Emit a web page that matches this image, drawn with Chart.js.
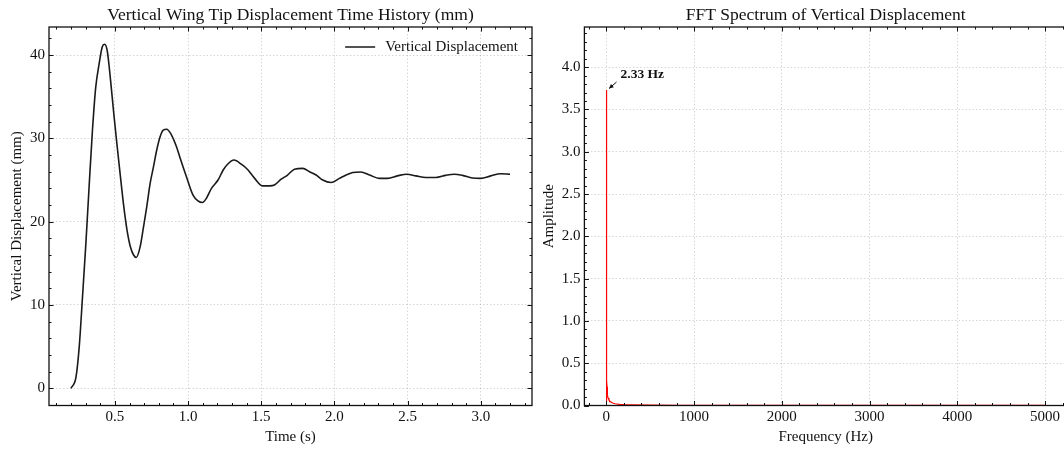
<!DOCTYPE html>
<html>
<head>
<meta charset="utf-8">
<title>Wing tip displacement</title>
<script src="https://cdn.jsdelivr.net/npm/chart.js@4.4.0/dist/chart.umd.min.js"></script>
<style>
    html, body { margin: 0; padding: 0; background: #fff; overflow: hidden; }
    #wrap { position: relative; width: 1064px; height: 449px; overflow: hidden; }
    #timeChart { position: absolute; left: 0; top: 0; }
    #fftChart { position: absolute; left: 530px; top: 0; }
</style>
</head>
<body>
<div id="wrap">
    <canvas id="timeChart" width="540" height="449"></canvas>
    <canvas id="fftChart" width="540" height="449"></canvas>
</div>
<script>
// Time history
const timeSec = [0.20, 0.234, 0.257, 0.279, 0.302, 0.324, 0.347, 0.369, 0.392, 0.414,
    0.430, 0.448, 0.471, 0.493, 0.516, 0.538, 0.561, 0.583, 0.606, 0.628,
    0.646, 0.673, 0.696, 0.718, 0.741, 0.764, 0.786, 0.809, 0.831, 0.854,
    0.887, 0.921, 0.943, 0.989, 1.034, 1.068, 1.098, 1.125, 1.16, 1.205,
    1.24, 1.27, 1.314, 1.364, 1.41, 1.455, 1.51, 1.557, 1.59, 1.636,
    1.68, 1.727, 1.784, 1.83, 1.875, 1.92, 1.977, 2.034, 2.08, 2.125,
    2.18, 2.24, 2.307, 2.364, 2.43, 2.495, 2.557, 2.625, 2.693, 2.76,
    2.818, 2.875, 2.943, 3.0, 3.068, 3.136, 3.2];
const displacementMm = [0, 1.3, 5.1, 11.0, 17.4, 24.2, 31.0, 36.1, 38.9, 41.0,
    41.3, 40.5, 36.9, 32.9, 29.0, 25.4, 21.8, 19.0, 17.0, 16.0,
    15.7, 17.0, 19.4, 21.8, 24.6, 26.6, 28.6, 30.2, 31.0, 31.1,
    30.4, 29.0, 27.8, 25.4, 23.2, 22.5, 22.3, 22.8, 24.0, 25.0,
    26.2, 26.9, 27.4, 26.9, 26.2, 25.2, 24.3, 24.3, 24.4, 25.1,
    25.6, 26.3, 26.4, 26.0, 25.6, 25.0, 24.7, 25.2, 25.6, 25.9,
    25.96, 25.6, 25.2, 25.2, 25.5, 25.7, 25.5, 25.3, 25.3, 25.56,
    25.7, 25.56, 25.24, 25.2, 25.5, 25.76, 25.7];

// FFT spectrum
const freqHz = [0, 0.33, 0.67, 1.0, 1.33, 1.67, 2.0, 2.33, 2.67, 3.0, 3.33, 4, 5, 6, 8, 10,
    15, 20, 30, 40, 60, 80, 100, 150, 200, 300, 500, 800, 1200, 2000, 3000, 4000, 5000];
const amplitude = [0.05, 0.6, 0.7, 0.9, 1.2, 1.8, 2.9, 3.73, 2.2, 1.0, 0.55, 0.45, 0.36, 0.3, 0.22, 0.17,
    0.12, 0.09, 0.065, 0.05, 0.036, 0.027, 0.021, 0.014, 0.011, 0.008, 0.005, 0.003, 0.002, 0.0015, 0.001, 0.001, 0.001];

// Tick labels
const timeTicks = [0.5, 1.0, 1.5, 2.0, 2.5, 3.0];
const dispTicks = [0, 10, 20, 30, 40];
const freqTicks = [0, 1000, 2000, 3000, 4000, 5000];
const ampTicks = [0.0, 0.5, 1.0, 1.5, 2.0, 2.5, 3.0, 3.5, 4.0];

const SERIF = "'Liberation Serif', 'Times New Roman', serif";
const tickFont = { family: SERIF, size: 15 };
const labelFont = { family: SERIF, size: 15 };
const textColor = '#111';
const gridColor = 'rgba(0, 0, 0, 0.2)';

// frame, inward major/minor ticks, and panel title
const framePlugin = {
    id: 'frameTicks',
    afterDraw(chart, args, opts) {
        const { ctx, chartArea: a } = chart;
        const x = chart.scales.x, y = chart.scales.y;
        ctx.save();
        ctx.strokeStyle = '#111';
        ctx.lineWidth = 1;

        const minorVals = (scale, step) => {
            const vals = [];
            for (let k = Math.ceil(scale.min / step); k * step <= scale.max + 1e-9; k++) vals.push(k * step);
            return vals;
        };
        const drawX = (vals, len) => vals.forEach(v => {
            const px = Math.round(x.getPixelForValue(v)) + 0.5;
            ctx.beginPath();
            ctx.moveTo(px, a.bottom); ctx.lineTo(px, a.bottom - len);
            ctx.moveTo(px, a.top); ctx.lineTo(px, a.top + len);
            ctx.stroke();
        });
        const drawY = (vals, len) => vals.forEach(v => {
            const py = Math.round(y.getPixelForValue(v)) + 0.5;
            ctx.beginPath();
            ctx.moveTo(a.left, py); ctx.lineTo(a.left + len, py);
            if (!opts.noRight) { ctx.moveTo(a.right, py); ctx.lineTo(a.right - len, py); }
            ctx.stroke();
        });
        drawX(minorVals(x, opts.minorX), 2.5);
        drawY(minorVals(y, opts.minorY), 2.5);
        drawX(x.ticks.map(t => t.value), 4.5);
        drawY(y.ticks.map(t => t.value), 4.5);

        ctx.lineWidth = 1.3;
        ctx.strokeRect(a.left, a.top, a.right - a.left, a.bottom - a.top);

        ctx.fillStyle = textColor;
        ctx.font = '17.5px ' + SERIF;
        ctx.textAlign = 'center';
        ctx.textBaseline = 'middle';
        ctx.fillText(opts.title, (a.left + a.right) / 2, 15);
        ctx.restore();
    }
};

const legendPlugin = {
    id: 'insideLegend',
    afterDraw(chart) {
        const { ctx, chartArea: a } = chart;
        const label = chart.data.datasets[0].label;
        ctx.save();
        ctx.font = '15px ' + SERIF;
        const w = ctx.measureText(label).width;
        const tx = a.right - 14 - w;
        const ty = a.top + 20;
        ctx.strokeStyle = '#1a1a1a';
        ctx.lineWidth = 1.5;
        ctx.beginPath();
        ctx.moveTo(tx - 40, ty); ctx.lineTo(tx - 10, ty);
        ctx.stroke();
        ctx.fillStyle = textColor;
        ctx.textBaseline = 'middle';
        ctx.fillText(label, tx, ty);
        ctx.restore();
    }
};

const peakPlugin = {
    id: 'peakLabel',
    afterDatasetsDraw(chart) {
        const { ctx } = chart;
        const data = chart.data.datasets[0].data;
        let best = 0;
        data.forEach((p, i) => { if (p.y > data[best].y) best = i; });
        const px = chart.scales.x.getPixelForValue(data[best].x);
        const py = chart.scales.y.getPixelForValue(data[best].y);
        ctx.save();
        ctx.strokeStyle = '#111';
        ctx.fillStyle = '#111';
        ctx.lineWidth = 1;
        const x0 = px + 10, y0 = py - 8, x1 = px + 2.5, y1 = py - 1.5;
        ctx.beginPath();
        ctx.moveTo(x0, y0); ctx.lineTo(x1, y1);
        ctx.stroke();
        const ang = Math.atan2(y1 - y0, x1 - x0);
        ctx.beginPath();
        ctx.moveTo(x1, y1);
        ctx.lineTo(x1 - 5 * Math.cos(ang - 0.45), y1 - 5 * Math.sin(ang - 0.45));
        ctx.lineTo(x1 - 5 * Math.cos(ang + 0.45), y1 - 5 * Math.sin(ang + 0.45));
        ctx.closePath();
        ctx.fill();
        ctx.font = 'bold 13.5px ' + SERIF;
        ctx.textBaseline = 'middle';
        ctx.fillText(data[best].x.toFixed(2) + ' Hz', px + 14, py - 15);
        ctx.restore();
    }
};

function axis(min, max, tickList, fmt, title, fixedSize, isX, titlePad) {
    return {
        type: 'linear',
        min: min,
        max: max,
        afterBuildTicks: s => { s.ticks = tickList.map(v => ({ value: v })); },
        afterFit: s => { if (isX) s.height = fixedSize; else s.width = fixedSize; },
        ticks: {
            font: tickFont, color: textColor, padding: isX ? 3 : 4,
            autoSkip: false, maxRotation: 0,
            callback: v => fmt(v)
        },
        grid: { color: gridColor, lineWidth: 0.8, drawTicks: false },
        border: { display: false, dash: [1.5, 2] },
        title: { display: true, text: title, font: labelFont, color: textColor, padding: titlePad }
    };
}

const timeChart = new Chart(document.getElementById('timeChart'), {
    type: 'line',
    data: {
        datasets: [{
            label: 'Vertical Displacement',
            data: timeSec.map((t, i) => ({ x: t, y: displacementMm[i] })),
            borderColor: '#1a1a1a',
            borderWidth: 1.6,
            pointRadius: 0,
            cubicInterpolationMode: 'monotone',
            fill: false
        }]
    },
    options: {
        responsive: false,
        animation: false,
        layout: { padding: { top: 27, left: 0, right: 8, bottom: 0 } },
        plugins: {
            legend: { display: false },
            tooltip: { enabled: false },
            frameTicks: { minorX: 0.1, minorY: 2, title: 'Vertical Wing Tip Displacement Time History (mm)' }
        },
        scales: {
            x: axis(0.05, 3.35, timeTicks, v => v.toFixed(1), 'Time (s)', 43.5, true, { top: 0, bottom: 3 }),
            y: axis(-2.065, 43.37, dispTicks, v => String(v), 'Vertical Displacement (mm)', 49, false, { top: 8, bottom: 0 })
        }
    },
    plugins: [framePlugin, legendPlugin]
});

const fftChart = new Chart(document.getElementById('fftChart'), {
    type: 'line',
    data: {
        datasets: [{
            label: 'FFT',
            data: freqHz.map((f, i) => ({ x: f, y: amplitude[i] })),
            borderColor: '#ff0000',
            borderWidth: 1.2,
            pointRadius: 0,
            tension: 0,
            fill: false
        }]
    },
    options: {
        responsive: false,
        animation: false,
        layout: { padding: { top: 27, left: 0, right: 3, bottom: 0 } },
        plugins: {
            legend: { display: false },
            tooltip: { enabled: false },
            frameTicks: { minorX: 200, minorY: 0.1, noRight: true, title: 'FFT Spectrum of Vertical Displacement' }
        },
        scales: {
            x: axis(-250, 5250, freqTicks, v => String(v), 'Frequency (Hz)', 43.5, true, { top: 0, bottom: 3 }),
            y: axis(0, 4.475, ampTicks, v => v.toFixed(1), 'Amplitude', 54.4, false, { top: 10, bottom: 0 })
        }
    },
    plugins: [framePlugin, peakPlugin]
});
</script>
</body>
</html>
